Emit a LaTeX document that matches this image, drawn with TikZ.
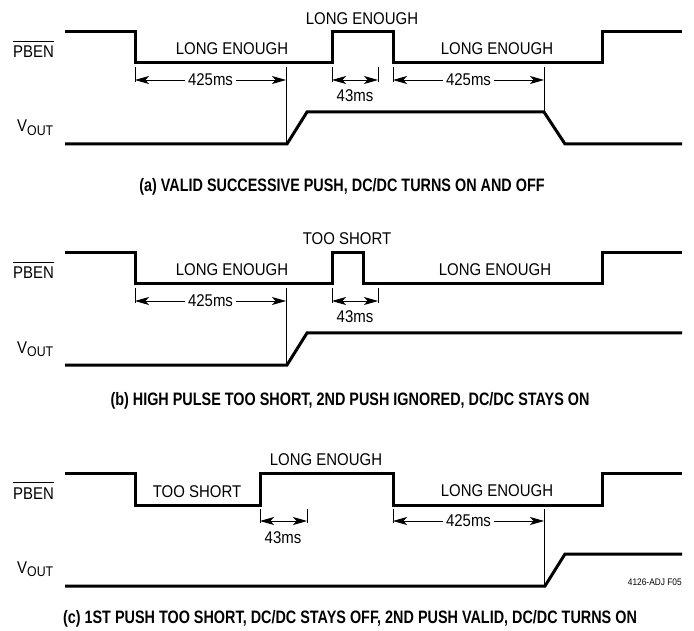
\documentclass[tikz,border=0pt]{standalone}
\usepackage{fontspec}
\setmainfont{Liberation Sans}
\newfontfamily\lblfont[FakeStretch=0.88]{Liberation Sans}
\newfontfamily\capfont[FakeStretch=0.8]{Liberation Sans Bold}
\usetikzlibrary{arrows.meta}
\tikzset{
  sig/.style={line width=3pt, line join=miter, line cap=butt},
  guide/.style={line width=0.9pt},
  dimarr/.style={line width=0.9pt, {Stealth[length=14pt,width=8pt,inset=3.5pt]}-{Stealth[length=14pt,width=8pt,inset=3.5pt]}},
  lbl/.style={font=\lblfont\fontsize{17}{20}\selectfont, inner sep=0pt},
  dimlbl/.style={lbl, fill=white, inner xsep=3pt, inner ysep=0pt},
  caplbl/.style={font=\capfont\fontsize{18}{20}\selectfont, inner sep=0pt, anchor=base},
  signame/.style={lbl, anchor=base west},
  overbar/.style={line width=0.9pt},
}
\newcommand{\voutlabel}{V\raisebox{-3.3pt}{\fontsize{14}{14}\selectfont OUT}}
\begin{document}
\begin{tikzpicture}[x=1pt,y=-1pt]
\useasboundingbox (0,0) rectangle (694,631);

% ================= panel (a) =================
\node[signame] (pbenA) at (13,58) {PBEN};
\draw[overbar] ([yshift=4.5pt]pbenA.north west) -- ([yshift=4.5pt]pbenA.north east);
\node[signame] (voutA) at (17,132) {\voutlabel};
\draw[sig] (65,32) -- (135,32) -- (135,63) -- (332,63) -- (332,32) -- (393,32) -- (393,63) -- (602,63) -- (602,32) -- (682,32);
\draw[sig] (65,144) -- (287,144) -- (307,112) -- (544,112) -- (565,144) -- (682,144);
\node[lbl, anchor=base] (a1) at (232,55) {LONG ENOUGH};
\node[lbl, anchor=base] (a2) at (362,25) {LONG ENOUGH};
\node[lbl, anchor=base] (a3) at (497,55) {LONG ENOUGH};
\coordinate (aT1t) at (135,67); \coordinate (aT1b) at (135,82);
\coordinate (aG1t) at (286,67); \coordinate (aG1b) at (286,144);
\coordinate (aT2t) at (332,67); \coordinate (aT2b) at (332,82);
\coordinate (aT3t) at (378,67); \coordinate (aT3b) at (378,82);
\coordinate (aT4t) at (393,67); \coordinate (aT4b) at (393,82);
\coordinate (aG2t) at (544,67); \coordinate (aG2b) at (544,112);
\draw[guide] (aT1t) -- (aT1b);
\draw[guide] (aG1t) -- (aG1b);
\draw[guide] (aT2t) -- (aT2b);
\draw[guide] (aT3t) -- (aT3b);
\draw[guide] (aT4t) -- (aT4b);
\draw[guide] (aG2t) -- (aG2b);
\coordinate (aD1l) at (135,80); \coordinate (aD1r) at (286,80);
\coordinate (aD2l) at (332,80); \coordinate (aD2r) at (378,80);
\coordinate (aD3l) at (393,80); \coordinate (aD3r) at (544,80);
\draw[dimarr] (aD1l) -- node[dimlbl] (aM1) {425ms} (aD1r);
\draw[dimarr] (aD2l) -- (aD2r);
\node[lbl, anchor=base] (aM2) at (355,102) {43ms};
\draw[dimarr] (aD3l) -- node[dimlbl] (aM3) {425ms} (aD3r);
\node[caplbl] (capA) at (342,192) {(a) VALID SUCCESSIVE PUSH, DC/DC TURNS ON AND OFF};

% ================= panel (b) =================
\node[signame] (pbenB) at (13,279) {PBEN};
\draw[overbar] ([yshift=4.5pt]pbenB.north west) -- ([yshift=4.5pt]pbenB.north east);
\node[signame] (voutB) at (17,353) {\voutlabel};
\draw[sig] (65,253) -- (135,253) -- (135,284) -- (332,284) -- (332,253) -- (363,253) -- (363,284) -- (602,284) -- (602,253) -- (682,253);
\draw[sig] (65,365) -- (287,365) -- (307,333) -- (682,333);
\node[lbl, anchor=base] (b1) at (232,276) {LONG ENOUGH};
\node[lbl, anchor=base] (b2) at (347,245) {TOO SHORT};
\node[lbl, anchor=base] (b3) at (495,276) {LONG ENOUGH};
\coordinate (bT1t) at (135,288); \coordinate (bT1b) at (135,303);
\coordinate (bG1t) at (286,288); \coordinate (bG1b) at (286,365);
\coordinate (bT2t) at (332,288); \coordinate (bT2b) at (332,303);
\coordinate (bT3t) at (378,288); \coordinate (bT3b) at (378,303);
\draw[guide] (bT1t) -- (bT1b);
\draw[guide] (bG1t) -- (bG1b);
\draw[guide] (bT2t) -- (bT2b);
\draw[guide] (bT3t) -- (bT3b);
\coordinate (bD1l) at (135,301); \coordinate (bD1r) at (286,301);
\coordinate (bD2l) at (332,301); \coordinate (bD2r) at (378,301);
\draw[dimarr] (bD1l) -- node[dimlbl] (bM1) {425ms} (bD1r);
\draw[dimarr] (bD2l) -- (bD2r);
\node[lbl, anchor=base] (bM2) at (355,323) {43ms};
\node[caplbl] (capB) at (350,405) {(b) HIGH PULSE TOO SHORT, 2ND PUSH IGNORED, DC/DC STAYS ON};

% ================= panel (c) =================
\node[signame] (pbenC) at (13,499) {PBEN};
\draw[overbar] ([yshift=4.5pt]pbenC.north west) -- ([yshift=4.5pt]pbenC.north east);
\node[signame] (voutC) at (17,573) {\voutlabel};
\draw[sig] (65,473) -- (135,473) -- (135,505) -- (260,505) -- (260,473) -- (393,473) -- (393,505) -- (602,505) -- (602,473) -- (682,473);
\draw[sig] (65,586) -- (545,586) -- (565,554) -- (682,554);
\node[lbl, anchor=base] (c1) at (197,497) {TOO SHORT};
\node[lbl, anchor=base] (c2) at (326,465) {LONG ENOUGH};
\node[lbl, anchor=base] (c3) at (497,496) {LONG ENOUGH};
\coordinate (cT1t) at (260,509); \coordinate (cT1b) at (260,523);
\coordinate (cT2t) at (307,509); \coordinate (cT2b) at (307,523);
\coordinate (cT3t) at (393,509); \coordinate (cT3b) at (393,523);
\coordinate (cG1t) at (544,509); \coordinate (cG1b) at (544,586);
\draw[guide] (cT1t) -- (cT1b);
\draw[guide] (cT2t) -- (cT2b);
\draw[guide] (cT3t) -- (cT3b);
\draw[guide] (cG1t) -- (cG1b);
\coordinate (cD1l) at (260,521); \coordinate (cD1r) at (307,521);
\coordinate (cD2l) at (393,521); \coordinate (cD2r) at (544,521);
\draw[dimarr] (cD1l) -- (cD1r);
\node[lbl, anchor=base] (cM1) at (283,543) {43ms};
\draw[dimarr] (cD2l) -- node[dimlbl] (cM2) {425ms} (cD2r);
\node[font=\lblfont\fontsize{9.5}{11}\selectfont, inner sep=0pt, anchor=base east] (figid) at (682,585) {4126-ADJ F05};
\node[caplbl] (capC) at (350,623) {(c) 1ST PUSH TOO SHORT, DC/DC STAYS OFF, 2ND PUSH VALID, DC/DC TURNS ON};
\end{tikzpicture}
\end{document}
